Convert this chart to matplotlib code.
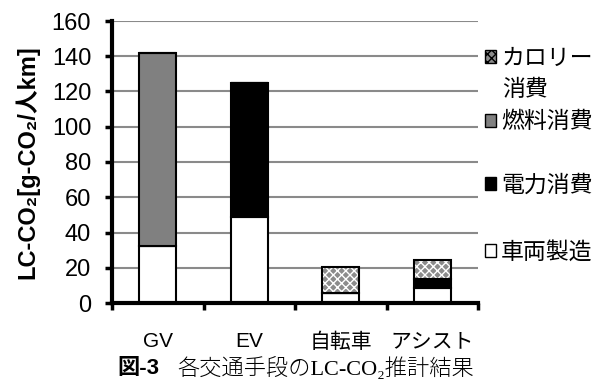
import matplotlib.pyplot as plt
from matplotlib.patches import Patch
import numpy as np

plt.rcParams['font.family'] = ['Liberation Sans', 'Noto Sans CJK JP']

modes = ['GV', 'EV', '自転車', 'アシスト']
manufacture = [32.5, 49.0, 5.5, 8.5]     # 車両製造
electricity = [0.0, 75.6, 0.0, 5.2]      # 電力消費
fuel = [109.2, 0.0, 0.0, 0.0]            # 燃料消費
calorie = [0.0, 0.0, 14.7, 10.6]         # カロリー消費

fig = plt.figure(figsize=(6.07, 3.8), dpi=100)
ax = fig.add_axes([112/607, 1 - 303/380, 366/607, 282/380])

x = np.arange(len(modes))
w = 0.4
manufacture = np.array(manufacture)
electricity = np.array(electricity)
fuel = np.array(fuel)
calorie = np.array(calorie)

b0 = np.zeros(len(modes))
ax.bar(x, manufacture, w, bottom=b0, color='white', edgecolor='black', lw=1.5, zorder=3)
b1 = b0 + manufacture
ax.bar(x, electricity, w, bottom=b1, color='black', edgecolor='black', lw=1.5, zorder=3)
b2 = b1 + electricity
ax.bar(x, fuel, w, bottom=b2, color='#808080', edgecolor='black', lw=1.5, zorder=3)
b3 = b2 + fuel
# dotted pattern for calorie consumption, outline drawn on top
ax.bar(x, calorie, w, bottom=b3, color='#8c8c8c', edgecolor='white', hatch='xxxx', lw=0, zorder=3)
ax.bar(x, calorie, w, bottom=b3, fill=False, edgecolor='black', lw=1.5, zorder=4)

ax.set_xlim(-0.5, len(modes) - 0.5)
ax.set_ylim(0, 160)
ax.set_yticks(np.arange(0, 161, 20))
ax.tick_params(axis='y', labelsize=17, width=2.5, length=5, pad=10)
ax.set_xticks(x)
ax.set_xticklabels(modes, fontsize=15)
ax.tick_params(axis='x', length=0, pad=21)
# category separators below the axis
ax.set_xticks(np.arange(-0.5, len(modes)), minor=True)
ax.tick_params(axis='x', which='minor', length=5, width=2.5, direction='out')

ax.grid(axis='y', color='#8a8a8a', lw=1.5, zorder=0)
ax.set_axisbelow(True)
for s in ['top', 'right']:
    ax.spines[s].set_visible(False)
ax.spines['left'].set_linewidth(3)
ax.spines['bottom'].set_linewidth(3)
ax.spines['left'].set_zorder(5)
ax.spines['bottom'].set_zorder(5)

ax.set_ylabel('LC-CO₂[g-CO₂/人km]', fontsize=17, fontweight='bold', labelpad=9)

# legend entries, one per stack segment
entries = [
    (Patch(facecolor='#8c8c8c', edgecolor='black', hatch='xxxx'), 'カロリー', 58),
    (Patch(facecolor='#808080', edgecolor='black'), '燃料消費', 122),
    (Patch(facecolor='black', edgecolor='black'), '電力消費', 185),
    (Patch(facecolor='white', edgecolor='black'), '車両製造', 252),
]
for h, lab, ypix in entries:
    leg = fig.legend([h], [lab], loc='center left', bbox_to_anchor=(485/607, 1 - ypix/380),
                     frameon=False, fontsize=16.5, handlelength=0.5, handleheight=0.5,
                     handletextpad=0.2, borderpad=0, borderaxespad=0)
    for t in leg.get_texts():
        t.set_family(['Noto Sans CJK JP'])
# wrapped second line of the calorie label
fig.text(502/607, 1 - 90/380, '消費', fontsize=16.5, family=['Noto Sans CJK JP'], va='center')

fig.text(117/607, 1 - 369/380, '図-3', fontsize=16, fontweight='bold',
         family=['Liberation Sans', 'Noto Sans CJK JP'], va='center')
fig.text(177/607, 1 - 369/380, '各交通手段のLC-CO₂推計結果', fontsize=16,
         family=['Liberation Serif', 'Noto Sans CJK JP'], va='center', fontweight='light')

fig.savefig('out.png', dpi=100)
